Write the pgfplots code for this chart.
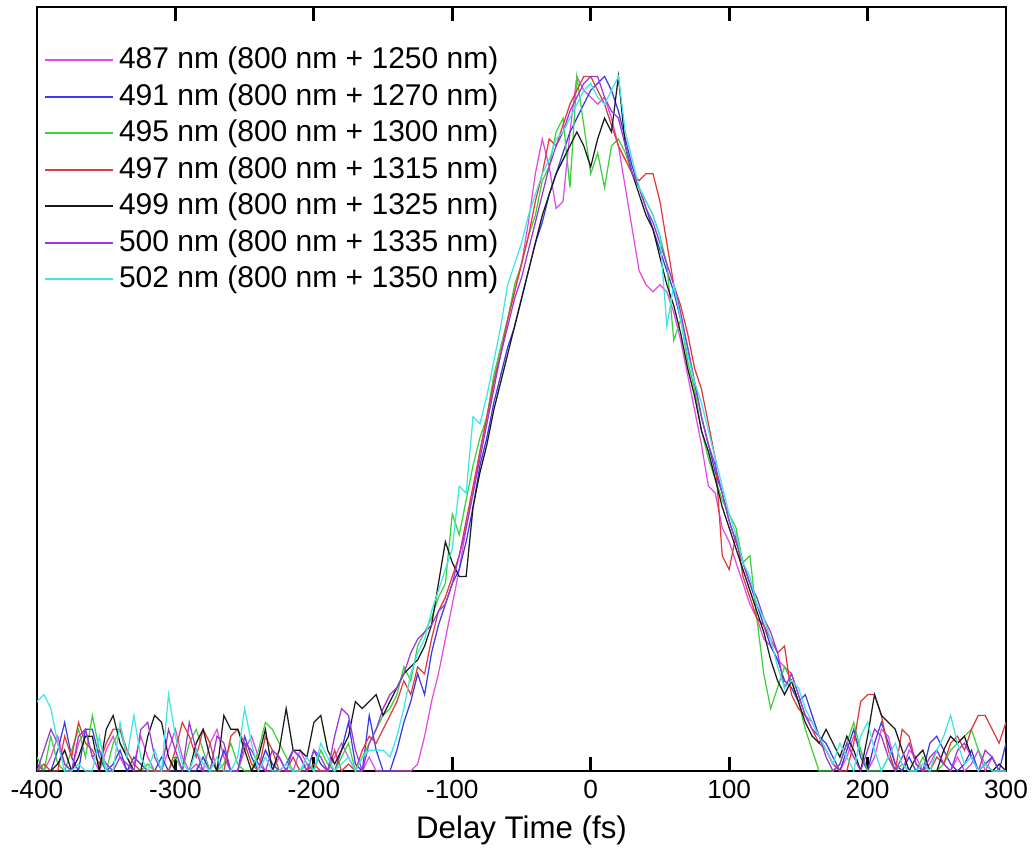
\documentclass[border=0pt]{standalone}
\usepackage{fontspec}
\setmainfont{Liberation Sans}
\usepackage{pgfplots}
\pgfplotsset{compat=1.18}
\usepackage{pgfplotstable}
\usetikzlibrary{calc}
\definecolor{cM}{HTML}{E64AE6}
\definecolor{cB}{HTML}{3A3AE6}
\definecolor{cG}{HTML}{3CD23C}
\definecolor{cR}{HTML}{E23A3A}
\definecolor{cK}{HTML}{1A1A1A}
\definecolor{cP}{HTML}{9A38D8}
\definecolor{cC}{HTML}{3FE6E6}

% delay (fs) and normalised signal, one column per sum-frequency wavelength
\pgfplotstableread{
x    M    B    G    R    K    P    C
-400 0.00 0.01 0.02 0.00 0.00 0.00 0.10
-395 0.00 0.00 0.00 0.01 0.00 0.03 0.11
-390 0.02 0.00 0.05 0.00 0.00 0.06 0.09
-385 0.05 0.03 0.01 0.00 0.01 0.04 0.04
-380 0.01 0.07 0.00 0.05 0.03 0.01 0.00
-375 0.00 0.02 0.03 0.02 0.00 0.00 0.00
-370 0.04 0.00 0.06 0.07 0.02 0.05 0.01
-365 0.06 0.06 0.02 0.04 0.05 0.06 0.00
-360 0.02 0.06 0.08 0.03 0.05 0.02 0.00
-355 0.00 0.02 0.03 0.01 0.00 0.03 0.05
-350 0.03 0.00 0.00 0.04 0.06 0.01 0.00
-345 0.05 0.01 0.04 0.06 0.08 0.00 0.00
-340 0.02 0.03 0.06 0.06 0.04 0.02 0.07
-335 0.00 0.00 0.02 0.03 0.02 0.01 0.02
-330 0.01 0.02 0.00 0.01 0.00 0.00 0.08
-325 0.05 0.01 0.00 0.00 0.00 0.06 0.02
-320 0.02 0.00 0.01 0.00 0.05 0.07 0.00
-315 0.00 0.00 0.00 0.00 0.08 0.02 0.03
-310 0.00 0.02 0.00 0.00 0.07 0.00 0.00
-305 0.03 0.00 0.00 0.00 0.02 0.06 0.11
-300 0.06 0.00 0.02 0.03 0.00 0.03 0.05
-295 0.02 0.00 0.00 0.07 0.00 0.00 0.01
-290 0.00 0.00 0.04 0.05 0.00 0.07 0.00
-285 0.01 0.00 0.06 0.02 0.04 0.03 0.03
-280 0.00 0.02 0.03 0.06 0.06 0.00 0.01
-275 0.04 0.00 0.00 0.04 0.02 0.00 0.00
-270 0.06 0.00 0.00 0.00 0.00 0.05 0.02
-265 0.02 0.03 0.01 0.00 0.08 0.04 0.00
-260 0.00 0.00 0.04 0.05 0.06 0.00 0.00
-255 0.00 0.00 0.01 0.06 0.06 0.00 0.02
-250 0.03 0.05 0.00 0.04 0.03 0.04 0.09
-245 0.05 0.02 0.00 0.01 0.00 0.03 0.04
-240 0.02 0.00 0.03 0.00 0.02 0.01 0.00
-235 0.00 0.03 0.07 0.05 0.06 0.00 0.02
-230 0.00 0.01 0.06 0.03 0.00 0.03 0.00
-225 0.02 0.00 0.04 0.00 0.03 0.02 0.00
-220 0.00 0.01 0.02 0.00 0.09 0.00 0.01
-215 0.00 0.03 0.00 0.02 0.03 0.03 0.00
-210 0.03 0.02 0.00 0.00 0.03 0.02 0.00
-205 0.01 0.00 0.01 0.00 0.02 0.00 0.02
-200 0.00 0.03 0.00 0.01 0.07 0.03 0.00
-195 0.00 0.01 0.03 0.00 0.08 0.02 0.04
-190 0.00 0.00 0.01 0.00 0.03 0.00 0.02
-185 0.02 0.00 0.00 0.03 0.01 0.05 0.00
-180 0.04 0.03 0.02 0.00 0.03 0.09 0.01
-175 0.02 0.07 0.04 0.01 0.05 0.08 0.02
-170 0.00 0.01 0.00 0.00 0.10 0.03 0.00
-165 0.00 0.00 0.02 0.03 0.09 0.00 0.02
-160 0.02 0.08 0.04 0.05 0.10 0.04 0.03
-155 0.00 0.03 0.06 0.04 0.11 0.06 0.03
-150 0.00 0.00 0.08 0.06 0.08 0.09 0.03
-145 0.00 0.00 0.09 0.08 0.10 0.11 0.02
-140 0.00 0.03 0.11 0.10 0.12 0.12 0.05
-135 0.00 0.07 0.15 0.13 0.14 0.14 0.09
-130 0.00 0.10 0.13 0.11 0.15 0.17 0.14
-125 0.01 0.14 0.18 0.15 0.16 0.19 0.17
-120 0.05 0.11 0.20 0.14 0.18 0.20 0.19
-115 0.10 0.17 0.22 0.19 0.21 0.21 0.23
-110 0.14 0.21 0.25 0.23 0.27 0.23 0.26
-105 0.19 0.24 0.27 0.25 0.33 0.24 0.29
-100 0.24 0.27 0.37 0.28 0.30 0.27 0.32
-95  0.29 0.29 0.34 0.31 0.28 0.31 0.41
-90  0.35 0.33 0.39 0.36 0.28 0.35 0.40
-85  0.40 0.38 0.44 0.41 0.38 0.40 0.51
-80  0.46 0.44 0.48 0.46 0.43 0.45 0.50
-75  0.51 0.48 0.51 0.51 0.47 0.50 0.54
-70  0.56 0.53 0.57 0.56 0.52 0.55 0.59
-65  0.61 0.57 0.61 0.60 0.56 0.60 0.64
-60  0.65 0.61 0.65 0.65 0.60 0.64 0.70
-55  0.69 0.64 0.70 0.69 0.64 0.68 0.73
-50  0.73 0.68 0.73 0.73 0.68 0.71 0.76
-45  0.79 0.72 0.77 0.77 0.72 0.75 0.80
-40  0.86 0.76 0.80 0.82 0.76 0.79 0.83
-35  0.91 0.79 0.85 0.86 0.80 0.83 0.86
-30  0.87 0.83 0.87 0.91 0.83 0.87 0.88
-25  0.81 0.86 0.92 0.90 0.86 0.90 0.91
-20  0.82 0.89 0.94 0.93 0.88 0.92 0.92
-15  0.92 0.92 0.84 0.96 0.90 0.95 0.94
-10  1.00 0.94 1.00 0.98 0.92 0.97 0.96
-5   0.98 0.96 0.93 1.00 0.90 0.99 0.98
0    0.97 0.98 0.86 1.00 0.87 1.00 0.99
5    0.96 0.99 0.89 0.98 0.91 1.00 0.97
10   0.97 1.00 0.84 0.96 0.94 0.97 0.96
15   0.94 0.98 0.90 0.93 0.92 0.95 0.98
20   0.90 0.95 0.91 0.90 1.00 0.94 1.00
25   0.84 0.91 0.89 0.88 0.90 0.90 0.92
30   0.78 0.87 0.86 0.86 0.86 0.86 0.88
35   0.72 0.84 0.84 0.85 0.83 0.84 0.84
40   0.70 0.81 0.82 0.86 0.80 0.81 0.82
45   0.69 0.78 0.80 0.86 0.78 0.79 0.80
50   0.70 0.75 0.77 0.82 0.74 0.76 0.77
55   0.69 0.72 0.73 0.76 0.70 0.73 0.64
60   0.66 0.69 0.62 0.70 0.67 0.70 0.70
65   0.62 0.65 0.65 0.67 0.63 0.66 0.65
70   0.57 0.61 0.59 0.63 0.58 0.61 0.60
75   0.52 0.56 0.55 0.58 0.54 0.56 0.56
80   0.47 0.51 0.49 0.55 0.49 0.51 0.53
85   0.41 0.47 0.45 0.50 0.46 0.47 0.49
90   0.40 0.43 0.42 0.45 0.42 0.44 0.45
95   0.35 0.40 0.39 0.31 0.38 0.40 0.41
100  0.33 0.36 0.37 0.29 0.35 0.36 0.37
105  0.30 0.33 0.35 0.34 0.32 0.33 0.34
110  0.27 0.30 0.30 0.28 0.29 0.30 0.30
115  0.24 0.27 0.31 0.25 0.26 0.27 0.28
120  0.22 0.24 0.22 0.22 0.23 0.25 0.24
125  0.19 0.21 0.14 0.21 0.20 0.22 0.22
130  0.18 0.18 0.09 0.19 0.16 0.20 0.19
135  0.16 0.16 0.12 0.17 0.13 0.17 0.15
140  0.15 0.13 0.15 0.18 0.11 0.12 0.12
145  0.14 0.12 0.13 0.11 0.13 0.14 0.13
150  0.11 0.10 0.10 0.09 0.10 0.11 0.12
155  0.08 0.11 0.06 0.08 0.07 0.08 0.09
160  0.07 0.08 0.03 0.06 0.05 0.06 0.07
165  0.05 0.05 0.00 0.04 0.04 0.05 0.05
170  0.03 0.04 0.00 0.03 0.06 0.02 0.03
175  0.01 0.02 0.00 0.01 0.04 0.00 0.01
180  0.00 0.00 0.01 0.00 0.02 0.01 0.04
185  0.02 0.03 0.04 0.00 0.05 0.04 0.02
190  0.05 0.06 0.07 0.04 0.03 0.02 0.00
195  0.03 0.02 0.03 0.10 0.00 0.00 0.05
200  0.00 0.00 0.00 0.11 0.05 0.03 0.07
205  0.02 0.04 0.00 0.11 0.11 0.06 0.03
210  0.06 0.07 0.00 0.08 0.08 0.05 0.00
215  0.05 0.04 0.02 0.03 0.07 0.02 0.02
220  0.01 0.01 0.00 0.00 0.06 0.00 0.04
225  0.00 0.00 0.01 0.06 0.03 0.02 0.01
230  0.03 0.02 0.00 0.05 0.00 0.04 0.00
235  0.02 0.00 0.00 0.01 0.02 0.01 0.00
240  0.00 0.00 0.02 0.00 0.03 0.00 0.01
245  0.01 0.04 0.00 0.00 0.00 0.02 0.00
250  0.03 0.05 0.00 0.02 0.00 0.03 0.03
255  0.01 0.03 0.01 0.01 0.03 0.01 0.05
260  0.00 0.01 0.03 0.04 0.05 0.00 0.08
265  0.02 0.00 0.04 0.05 0.04 0.03 0.04
270  0.00 0.01 0.05 0.03 0.05 0.04 0.01
275  0.01 0.03 0.06 0.06 0.02 0.02 0.02
280  0.03 0.00 0.03 0.08 0.00 0.00 0.00
285  0.00 0.01 0.01 0.08 0.01 0.03 0.01
290  0.02 0.02 0.00 0.06 0.00 0.02 0.00
295  0.00 0.00 0.00 0.04 0.01 0.00 0.00
300  0.00 0.04 0.00 0.07 0.00 0.00 0.00
}\sfg

\begin{document}
\begin{tikzpicture}
\begin{axis}[
  scale only axis, width=387.6pt, height=305.6pt,
  xmin=-400, xmax=300, ymin=0, ymax=1.1,
  xtick={-400,-300,...,300}, ytick=\empty,
  tick align=inside, xtick pos=both, major tick length=5.6pt,
  axis line style={line width=1.1pt},
  tick style={line width=1.1pt, black},
  /pgf/number format/assume math mode=true,
  xticklabel style={font=\fontsize{10.5}{12}\selectfont},
  xlabel={Delay Time (fs)},
  xlabel style={font=\fontsize{12.5}{15}\selectfont},
  legend cell align=left,
  legend image code/.code={\draw[#1, line width=0.8pt] (0pt,0.4pt) -- (27pt,0.4pt);},
  legend style={draw=none, fill=none, at={(0,1)}, anchor=north west,
    xshift=2.6pt, yshift=-14.2pt, inner sep=0pt, row sep=0pt,
    font=\fontsize{12}{14}\selectfont,
    nodes={inner xsep=2.2pt, inner ysep=1.3pt, text height=9pt, text depth=3pt}},
  every axis plot/.append style={line width=0.5pt},
]
\addplot[cM] table[x=x, y=M] {\sfg};
\addlegendentry{487 nm (800 nm + 1250 nm)}
\addplot[cB] table[x=x, y=B] {\sfg};
\addlegendentry{491 nm (800 nm + 1270 nm)}
\addplot[cG] table[x=x, y=G] {\sfg};
\addlegendentry{495 nm (800 nm + 1300 nm)}
\addplot[cR] table[x=x, y=R] {\sfg};
\addlegendentry{497 nm (800 nm + 1315 nm)}
\addplot[cK] table[x=x, y=K] {\sfg};
\addlegendentry{499 nm (800 nm + 1325 nm)}
\addplot[cP] table[x=x, y=P] {\sfg};
\addlegendentry{500 nm (800 nm + 1335 nm)}
\addplot[cC] table[x=x, y=C] {\sfg};
\addlegendentry{502 nm (800 nm + 1350 nm)}
\coordinate (sw) at (rel axis cs:0,0);
\coordinate (ne) at (rel axis cs:1,1);
\end{axis}
\pgfresetboundingbox
\path[use as bounding box] ($(sw)+(-14.8pt,-34.4pt)$) rectangle ($(ne)+(12pt,2.8pt)$);
\end{tikzpicture}
\end{document}
